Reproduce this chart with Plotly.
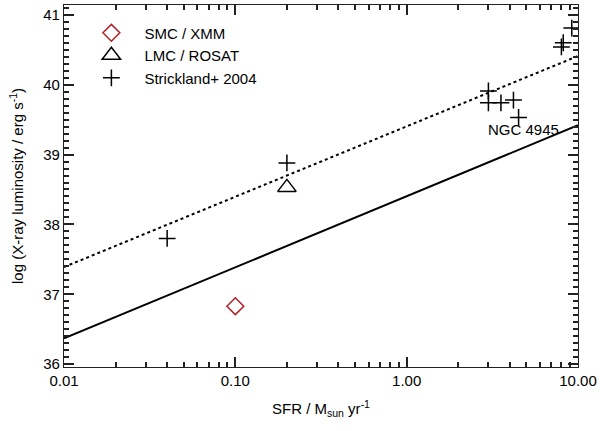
import plotly.graph_objects as go

# ---- data ----
smc_sfr = [0.1]
smc_lx = [36.83]
lmc_sfr = [0.2]
lmc_lx = [38.53]
strick_sfr = [0.04, 0.2, 3.0, 3.0, 3.55, 4.2, 4.5, 8.0, 8.2, 9.2]
strick_lx = [37.80, 38.88, 39.91, 39.74, 39.74, 39.78, 39.53, 40.54, 40.60, 40.81]
line_sfr = [0.01, 10.0]
solid_lx = [36.37, 39.42]
dotted_lx = [37.39, 40.41]

FONT = "Liberation Sans, Arial, Helvetica, sans-serif"
AX = "#222222"

fig = go.Figure()
fig.add_trace(go.Scatter(x=line_sfr, y=solid_lx, mode="lines",
                         line=dict(color="black", width=2), showlegend=False))
fig.add_trace(go.Scatter(x=line_sfr, y=dotted_lx, mode="lines",
                         line=dict(color="black", width=2, dash="dot"), showlegend=False))
fig.add_trace(go.Scatter(x=smc_sfr, y=smc_lx, mode="markers", name="SMC / XMM",
                         marker=dict(symbol="diamond-open", size=13, color="#b22028",
                                     line=dict(width=1.5, color="#b22028"))))
fig.add_trace(go.Scatter(x=lmc_sfr, y=lmc_lx, mode="markers", name="LMC / ROSAT",
                         marker=dict(symbol="triangle-up-open", size=16, color="black",
                                     line=dict(width=1.5, color="black"))))
fig.add_trace(go.Scatter(x=strick_sfr, y=strick_lx, mode="markers", name="Strickland+ 2004",
                         marker=dict(symbol="cross-thin", size=12, color="black",
                                     line=dict(width=1.5, color="black"))))
# invisible trace on the overlay axes that carry the minor ticks
fig.add_trace(go.Scatter(x=line_sfr, y=solid_lx, xaxis="x2", yaxis="y2", mode="lines",
                         line=dict(width=0), hoverinfo="skip", showlegend=False, opacity=0))

fig.add_annotation(x=0.681, y=39.36, xref="x", yref="y", text="NGC 4945",
                   showarrow=False, font=dict(family=FONT, size=15, color="black"))

fig.update_layout(
    width=600, height=431,
    margin=dict(l=64, r=22, t=5, b=64, autoexpand=False),
    paper_bgcolor="white", plot_bgcolor="white",
    font=dict(family=FONT, size=15, color="black"),
    legend=dict(x=0.028, y=0.968, xanchor="left", yanchor="top",
                bgcolor="rgba(0,0,0,0)", itemwidth=56,
                font=dict(family=FONT, size=15, color="black")),
    xaxis2=dict(type="log", range=[-2, 1], overlaying="x", side="bottom", anchor="y",
                tickmode="linear", tick0=0, dtick="D1", showticklabels=False,
                ticks="inside", ticklen=5, tickcolor=AX, tickwidth=1.5,
                mirror="ticks", showline=False, showgrid=False, zeroline=False,
                automargin=False, layer="above traces"),
    yaxis2=dict(range=[35.96, 41.14], overlaying="y", side="left", anchor="x",
                tickmode="linear", tick0=36, dtick=0.1, showticklabels=False,
                ticks="inside", ticklen=5, tickcolor=AX, tickwidth=1.5,
                mirror="ticks", showline=False, showgrid=False, zeroline=False,
                automargin=False, layer="above traces"),
)
fig.layout.xaxis.update(
    type="log", range=[-2, 1], automargin=False,
    tickmode="linear", tick0=0, dtick=1, tickformat=".2f",
    ticks="inside", ticklen=10, tickcolor=AX, tickwidth=1.5,
    showline=True, linecolor=AX, linewidth=1.2, mirror="ticks",
    showgrid=False, zeroline=False, layer="above traces",
    title=dict(text="SFR / M<sub>sun</sub> yr<sup>-1</sup>", standoff=15,
               font=dict(family=FONT, size=15)),
)
fig.layout.yaxis.update(
    range=[35.96, 41.14], automargin=False,
    tickmode="linear", tick0=36, dtick=1,
    ticks="inside", ticklen=10, tickcolor=AX, tickwidth=1.5,
    showline=True, linecolor=AX, linewidth=1.2, mirror="ticks",
    showgrid=False, zeroline=False, layer="above traces",
    title=dict(text="log (X-ray luminosity / erg s<sup>-1</sup>)", standoff=15,
               font=dict(family=FONT, size=15)),
)

fig.write_html("out.html", config={"displayModeBar": False},
               post_script="document.body.style.margin='0';document.body.style.overflow='hidden';")
